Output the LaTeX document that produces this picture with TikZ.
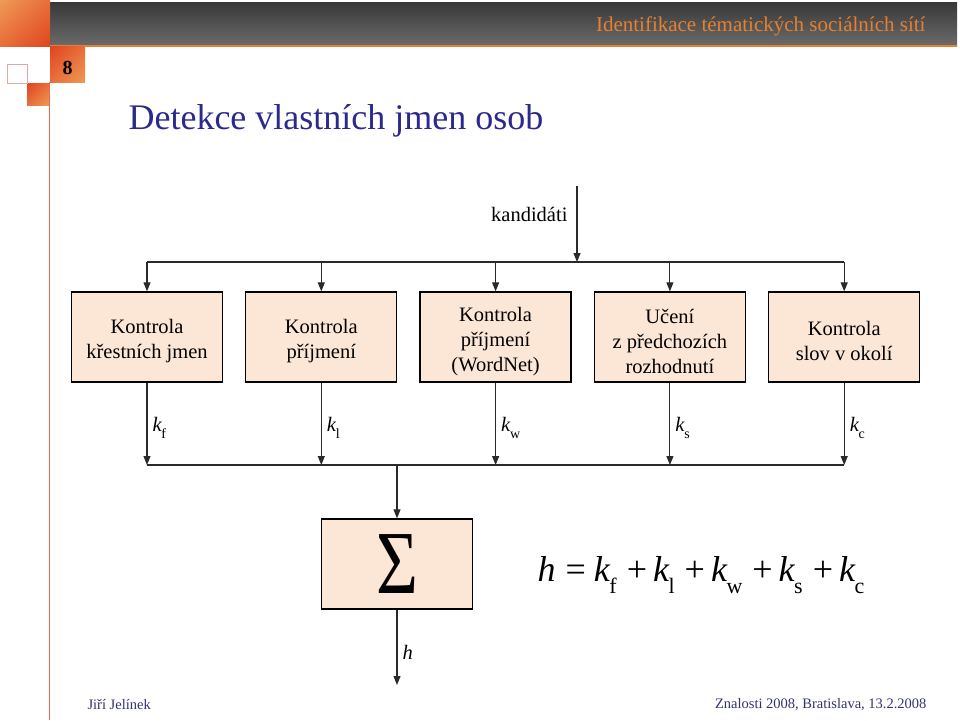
\documentclass[tikz,border=0pt]{standalone}
\usepackage{fontspec}
\setmainfont{Liberation Serif}
\usetikzlibrary{positioning,arrows.meta,shadings}
\definecolor{boxfill}{HTML}{FCE6D6}
\definecolor{navy}{HTML}{2B2A8C}
\definecolor{footnavy}{HTML}{33336E}
\definecolor{headorange}{HTML}{E8802E}
\definecolor{lightorange}{HTML}{EF9A55}
\definecolor{darkorange}{HTML}{E0441F}
\definecolor{midorange}{HTML}{E86E3A}
\definecolor{linegray}{HTML}{2A2A2A}
\tikzstyle{block} = [rectangle, draw=black, line width=1.3pt, fill=boxfill, minimum width=151pt, minimum height=90pt, align=center, inner sep=2pt]
\tikzstyle{arrow} = [line width=1.1pt, draw=linegray, -{Triangle[length=9pt,width=7pt]}]
\tikzstyle{bus} = [line width=1.7pt, draw=linegray]
\tikzstyle{klabel} = [right=4pt, inner sep=1pt]
\newcommand{\lift}{\rule{0pt}{23pt}}
\newcommand{\ksub}[1]{\textit{k}\kern-1pt\raisebox{-0.32em}{\fontsize{22}{22}\selectfont #1}}

\begin{document}
\begin{tikzpicture}[x=1pt,y=1pt,font=\fontsize{20.5}{25}\selectfont]
\useasboundingbox (0,0) rectangle (960,-720);
% slide frame
\shade[top color=black!78, bottom color=black!58] (50,-2) rectangle (957,-46);
\draw[headorange, line width=1.5pt] (50,-46) -- (957,-46);
\shade[upper left=lightorange, lower right=darkorange, upper right=midorange, lower left=midorange] (0,0) rectangle (50,-46.5);
\shade[upper left=darkorange, lower right=lightorange, upper right=midorange, lower left=midorange] (50,-46.5) rectangle (85,-82);
\shade[upper left=darkorange, lower right=lightorange, upper right=midorange, lower left=midorange] (27,-83) rectangle (49.5,-105);
\draw[black!30!red!35, line width=0.6pt] (7,-64) rectangle (27,-83);
\draw[darkorange!80, line width=0.8pt] (49.5,-82) -- (49.5,-720);
\node[text=headorange, font=\fontsize{21}{21}\selectfont, anchor=east] (subject) at (929,-26.5) {Identifikace tématických sociálních sítí};
\node[font=\fontsize{20}{20}\selectfont\bfseries] (slideno) at (67.5,-67.5) {8};
\node[text=navy, font=\fontsize{36}{36}\selectfont, anchor=west] (title) at (125,-121) {Detekce vlastních jmen osob};
\node[text=footnavy, font=\fontsize{14.5}{15}\selectfont, anchor=west] (author) at (84,-704.5) {Jiří Jelínek};
\node[text=footnavy, font=\fontsize{14.5}{15}\selectfont, anchor=east] (event) at (930,-704.5) {Znalosti 2008, Bratislava, 13.2.2008};

% checks
\node[block] (first) at (147,-337) {\lift Kontrola\\křestních jmen};
\node[block, right=22pt of first] (surname) {\lift Kontrola\\příjmení};
\node[block, right=22pt of surname] (wordnet) {\lift Kontrola\\příjmení\\(WordNet)};
\node[block, right=22pt of wordnet] (learn) {\lift Učení\\z předchozích\\rozhodnutí};
\node[block, right=22pt of learn] (context) {\lift Kontrola\\slov v okolí};

\coordinate (kin) at (577,-186);
\coordinate (split) at (577,-262);
\draw[arrow] (kin) -- node[left=8pt, pos=0.38, inner sep=1pt] {kandidáti} (split);
\draw[bus] (first.north |- split) -- (context.north |- split);
\foreach \b in {first,surname,wordnet,learn,context}
  \draw[arrow] (\b.north |- split) -- (\b.north);

\coordinate (merge) at (0,-465);
\draw[bus] (first.south |- merge) -- (context.south |- merge);
\foreach \b/\s in {first/f,surname/l,wordnet/w,learn/s,context/c}
  \draw[arrow] (\b.south) -- node[klabel, pos=0.55] {\textit{k}\kern-0.5pt\raisebox{-0.3em}{\fontsize{14}{14}\selectfont \s}} (\b.south |- merge);

% sum
\node[block] (sum) at (397,-564) {\raisebox{-3pt}{\fontsize{90}{90}\selectfont\scalebox{0.8}[1]{Σ}}};
\draw[arrow] (sum.north |- merge) -- (sum.north);
\coordinate (hout) at (397,-685);
\draw[arrow] (sum.south) -- node[klabel, pos=0.57] {\textit{h}} (hout);

\node[font=\fontsize{36}{36}\selectfont] (formula) at (701,-575) {\textit{h}\hspace{10pt}=\hspace{8pt}\ksub{f}\hspace{10pt}+\hspace{6pt}\ksub{l}\hspace{10pt}+\hspace{6pt}\ksub{w}\hspace{10pt}+\hspace{6pt}\ksub{s}\hspace{10pt}+\hspace{6pt}\ksub{c}};
\end{tikzpicture}
\end{document}
